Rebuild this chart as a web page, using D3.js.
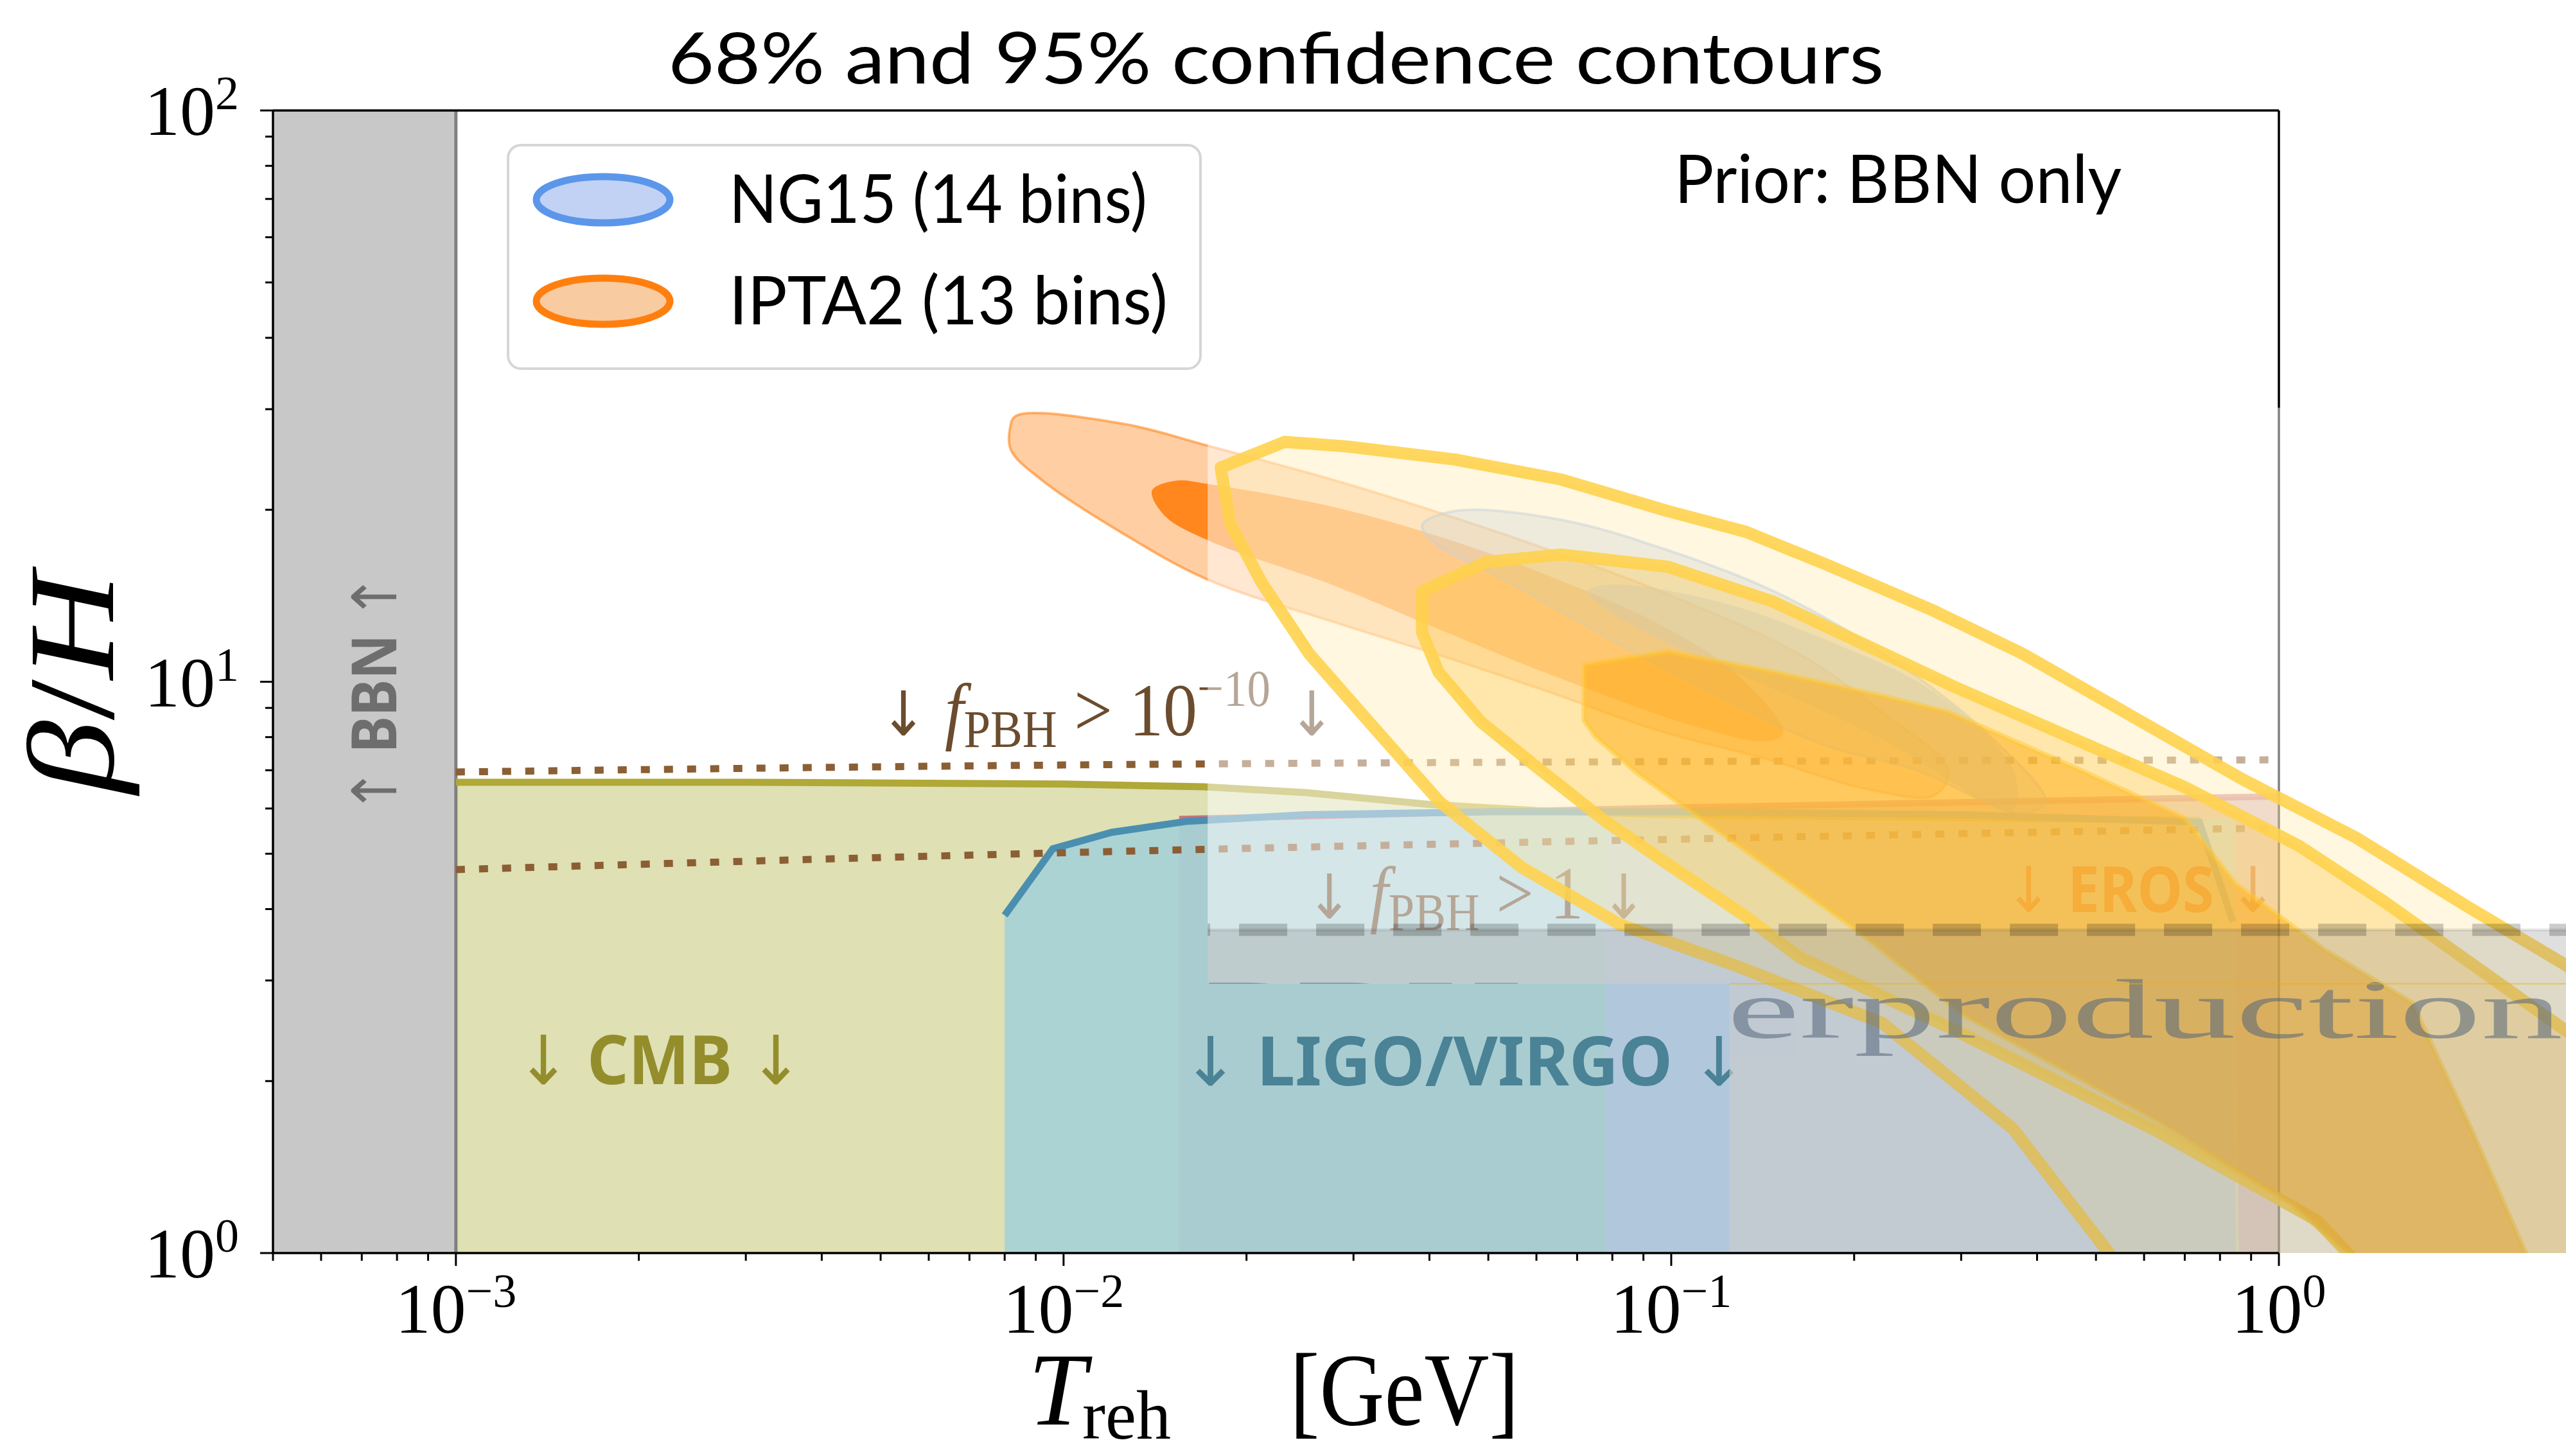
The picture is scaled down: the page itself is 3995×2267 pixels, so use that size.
<!DOCTYPE html>
<html><head><meta charset="utf-8">
<script src="https://cdn.jsdelivr.net/npm/d3@7"></script>
<style>body{margin:0;background:#fff}</style>
</head><body>
<svg id="chart" width="3995" height="2267" xmlns="http://www.w3.org/2000/svg"></svg>
<script>
// ---------------- data ----------------
const xDomain = [5e-4, 1];
const yDomain = [1, 100];
const xMajorTicks = [1e-3, 1e-2, 1e-1, 1];
const xTickExponents = ["\u22123", "\u22122", "\u22121", "0"];
const yMajorTicks = [1, 10, 100];
const yTickExponents = ["0", "1", "2"];

const bbnRange = [5e-4, 1e-3];
const cmbBoundary = [[1e-3,6.67],[3e-3,6.67],[1e-2,6.62],[1.7e-2,6.55],[2.5e-2,6.4],[4e-2,6.1],[6e-2,5.95],[0.1,5.85],[0.3,5.78],[0.74,5.72],[0.84,3.8],[0.86,1]];
const ligoBoundary = [[8.0e-3,3.9],[9.6e-3,5.1],[1.2e-2,5.45],[1.6e-2,5.7],[2.5e-2,5.85],[5e-2,5.92],[0.1,5.92],[0.3,5.85],[0.74,5.68],[0.84,3.8],[0.85,1]];
const erosBoundary = [[0.0155,5.75],[0.05,5.92],[0.1,6.02],[0.3,6.15],[1,6.3]];
const erosStart = 0.0155;
const blueBand = [0.078, 0.848, 5.8];
const fpbhTiny = [[1e-3,6.95],[1e-2,7.15],[0.1,7.25],[1,7.3]];
const fpbhOne = [[1e-3,4.69],[1e-2,5.02],[0.1,5.3],[1,5.55]];

const ipta2_95 = [[0.00816,27.7],[0.00835,29.2],[0.0125,28.3],[0.01726,25.9],[0.028,22.5],[0.0419,19.7],[0.0631,17.0],[0.0944,14.5],[0.162,11.2],[0.222,8.86],[0.286,6.99],[0.271,6.33],[0.209,6.5],[0.144,7.32],[0.0944,8.24],[0.0631,9.59],[0.0419,11.1],[0.028,12.7],[0.01726,15.1],[0.0125,18.2],[0.00923,22.5],[0.0082,25.4]];
const ipta2_68 = [[0.01398,21.6],[0.01534,22.5],[0.01726,22.2],[0.028,20.2],[0.0419,17.9],[0.0631,15.3],[0.0944,12.7],[0.127,10.4],[0.153,8.13],[0.144,7.87],[0.112,8.29],[0.0631,10.3],[0.0419,12.3],[0.028,14.7],[0.01726,17.7],[0.01469,19.5]];
const ng15_95 = [[0.0389,18.8],[0.044,19.9],[0.0659,19.2],[0.0986,17.0],[0.1475,14.4],[0.2207,11.3],[0.3303,8.13],[0.4129,6.16],[0.376,5.89],[0.251,7.03],[0.181,7.71],[0.120,9.40],[0.0803,11.8],[0.0537,15.0],[0.0406,17.6]];
const ng15_68 = [[0.0727,14.4],[0.0803,14.8],[0.120,13.8],[0.181,11.8],[0.271,9.59],[0.365,7.03],[0.365,5.96],[0.2207,7.97],[0.1475,9.71],[0.0986,11.7],[0.0774,13.5]];

// pasted overlay (other analysis)
const overlayLeft = 0.01726, overlayLowerLeft = 0.1247, overlayTop = 30.2, overlaySplit = 2.96;
const overproductionLevel = 3.68;
const yellowA95 = [[0.01814,23.7],[0.02311,26.3],[0.02943,25.8],[0.044,24.5],[0.0659,22.6],[0.0986,19.9],[0.1327,18.3],[0.1811,16.0],[0.2709,13.3],[0.3786,11.2],[0.563,8.80],[0.869,6.76],[1.342,5.33],[2.059,4.02],[2.968,3.19],[4.1,2.53],[4.1,0.8],[0.529,0.8],[0.529,0.99],[0.365,1.65],[0.222,2.53],[0.1271,3.19],[0.0823,3.76],[0.0568,4.73],[0.0416,6.16],[0.0325,8.29],[0.02535,11.2],[0.0212,14.9],[0.0188,18.9]];
const yellowB = [[0.0389,14.4],[0.0495,16.2],[0.0659,16.7],[0.0986,15.9],[0.1475,13.8],[0.2936,9.78],[0.6997,6.54],[1.08,5.16],[1.491,4.12],[2.968,2.45],[4.934,1.65],[4.934,0.8],[1.309,0.8],[1.309,0.99],[1.156,1.14],[0.6334,1.63],[0.2829,2.50],[0.1629,3.29],[0.1327,3.88],[0.0986,4.80],[0.0774,5.73],[0.0597,7.13],[0.0486,8.51],[0.0414,10.4],[0.0389,12.2]];
const yellowC = [[0.0719,10.7],[0.0986,11.3],[0.1475,10.4],[0.2207,9.46],[0.285,8.86],[0.4677,7.03],[0.6997,5.77],[0.848,4.43],[1.185,3.40],[1.657,2.74],[2.071,1.65],[2.557,0.99],[2.754,0.8],[1.393,0.8],[1.309,0.99],[1.047,1.22],[0.6334,1.70],[0.303,2.61],[0.1963,3.76],[0.1271,5.23],[0.0876,6.94],[0.0750,8.02],[0.0719,8.55]];

const legendLabels = ["NG15 (14 bins)", "IPTA2 (13 bins)"];
const legendFill = ["#c2d2f5", "#f9cba0"];
const legendStroke = ["#5b96ea", "#ff7f0e"];

// ---------------- layout ----------------
const W = 3995, H = 2267;
const M = {l:425, r:3548, t:172, b:1951};
const svg = d3.select("#chart");
const x = d3.scaleLog().domain(xDomain).range([M.l, M.r]);
const y = d3.scaleLog().domain(yDomain).range([M.b, M.t]);
const lineGen = d3.line().x(d => x(d[0])).y(d => y(d[1]));
const dotGen = d3.line().x(d => x(d[0])).y(d => y(d[1])).curve(d3.curveMonotoneX);
const smoothClosed = d3.line().x(d => x(d[0])).y(d => y(d[1])).curve(d3.curveCatmullRomClosed.alpha(0.5));
const linClosed = d3.line().x(d => x(d[0])).y(d => y(d[1])).curve(d3.curveLinearClosed);
const areaGen = d3.area().x(d => x(d[0])).y0(y(1)).y1(d => y(d[1]));

svg.append("rect").attr("width", W).attr("height", H).attr("fill", "#fff");
const defs = svg.append("defs");
defs.append("clipPath").attr("id", "axclip").append("rect")
  .attr("x", M.l).attr("y", M.t).attr("width", M.r - M.l).attr("height", M.b - M.t);
const Lshape = [
  [x(overlayLeft), y(overlayTop)], [W, y(overlayTop)], [W, y(1)],
  [x(overlayLowerLeft), y(1)], [x(overlayLowerLeft), y(overlaySplit)], [x(overlayLeft), y(overlaySplit)]
];
defs.append("clipPath").attr("id", "ovclip").append("polygon").attr("points", Lshape.map(p => p.join(",")).join(" "));

// ---------------- base plot ----------------
const base = svg.append("g").attr("clip-path", "url(#axclip)");
base.append("rect").attr("x", x(bbnRange[0])).attr("y", M.t).attr("width", x(bbnRange[1]) - x(bbnRange[0])).attr("height", M.b - M.t).attr("fill", "#c8c8c8");
base.append("path").attr("d", areaGen([[erosStart, erosBoundary[0][1]], ...erosBoundary])).attr("fill", "#d8b2c4");
base.append("path").attr("d", areaGen(cmbBoundary)).attr("fill", "#dfe0b3");
base.append("path").attr("d", areaGen([[ligoBoundary[0][0], 1], ...ligoBoundary])).attr("fill", "#acd3d4");
base.append("path").attr("d", areaGen([[erosStart, 1], [erosStart, 5.72], ...ligoBoundary.filter(d => d[0] > erosStart)])).attr("fill", "#7a7aa0").attr("opacity", 0.08);
base.append("rect").attr("x", x(blueBand[0])).attr("y", y(blueBand[2])).attr("width", x(blueBand[1]) - x(blueBand[0])).attr("height", y(1) - y(blueBand[2])).attr("fill", "#b1c7dc");
base.append("line").attr("x1", x(bbnRange[1])).attr("x2", x(bbnRange[1])).attr("y1", M.t).attr("y2", M.b).attr("stroke", "#808080").attr("stroke-width", 5);

base.append("path").attr("d", lineGen(erosBoundary)).attr("fill", "none").attr("stroke", "#c0506a").attr("stroke-width", 10).attr("opacity", 0.75);
base.append("path").attr("d", lineGen(cmbBoundary.slice(0, 10))).attr("fill", "none").attr("stroke", "#b0a837").attr("stroke-width", 11);
base.append("path").attr("d", lineGen(ligoBoundary.slice(0, 10))).attr("fill", "none").attr("stroke", "#4a8fb0").attr("stroke-width", 11);
[fpbhTiny, fpbhOne].forEach(d => base.append("path").attr("d", dotGen(d)).attr("fill", "none")
  .attr("stroke", "#8b5e34").attr("stroke-width", 11).attr("stroke-dasharray", "14,22"));

// NG15 / IPTA2 contours
base.append("path").attr("d", smoothClosed(ipta2_95)).attr("fill", "#ff7f0e").attr("fill-opacity", 0.38).attr("stroke", "#ff7f0e").attr("stroke-opacity", 0.55).attr("stroke-width", 4);
base.append("path").attr("d", smoothClosed(ipta2_68)).attr("fill", "#ff7f0e").attr("fill-opacity", 0.9);
base.append("path").attr("d", smoothClosed(ng15_95)).attr("fill", "#6495ed").attr("fill-opacity", 0.3).attr("stroke", "#6495ed").attr("stroke-opacity", 0.5).attr("stroke-width", 4);
base.append("path").attr("d", smoothClosed(ng15_68)).attr("fill", "#6495ed").attr("fill-opacity", 0.45);

// region labels
function regionLabel(g, text, x0, x1, yb, color, fs) {
  const t = g.append("text").attr("x", x0).attr("y", yb).attr("fill", color)
    .attr("font-family", "'Noto Sans', 'DejaVu Sans', sans-serif").attr("font-size", fs)
    .attr("textLength", x1 - x0).attr("lengthAdjust", "spacingAndGlyphs");
  t.append("tspan").attr("font-weight", "normal").text("\u2193 ");
  t.append("tspan").attr("font-weight", "bold").text(text);
  t.append("tspan").attr("font-weight", "normal").text(" \u2193");
}
regionLabel(base, "CMB", 804, 1250, 1688, "#938d2c", 106);
regionLabel(base, "LIGO/VIRGO", 1840, 2721, 1690, "#4a8296", 106);
regionLabel(base, "EROS", 3121, 3545, 1420, "#c03a00", 98);

function fpbhLabel(g, x0, x1, yb, sup, main) {
  const t = g.append("text").attr("x", x0).attr("y", yb).attr("fill", "#6b4c2e")
    .attr("font-family", "'Liberation Serif', serif").attr("font-size", 116)
    .attr("textLength", x1 - x0).attr("lengthAdjust", "spacingAndGlyphs");
  t.append("tspan").attr("font-family", "'DejaVu Sans', sans-serif").attr("font-size", 96).text("\u2193 ");
  t.append("tspan").attr("font-style", "italic").text("f");
  t.append("tspan").attr("font-size", 82).attr("dy", 18).text("PBH");
  t.append("tspan").attr("dy", -18).text(" > " + main);
  if (sup) t.append("tspan").attr("font-size", 80).attr("dy", -46).text(sup);
  t.append("tspan").attr("font-family", "'DejaVu Sans', sans-serif").attr("font-size", 96).attr("dy", sup ? 46 : 0).text(" \u2193");
}
fpbhLabel(base, 1370, 2079, 1145, "\u221210", "10");
fpbhLabel(base, 2034, 2564, 1430, null, "1");

// right spine lies under the pasted overlay
svg.append("line").attr("x1", M.r).attr("x2", M.r).attr("y1", M.t).attr("y2", M.b).attr("stroke", "#000").attr("stroke-width", 3.5);

// BBN label
const bbn = svg.append("text").attr("transform", `translate(617,1080) rotate(-90)`).attr("text-anchor", "middle")
  .attr("fill", "#6e6e6e").attr("font-family", "'Noto Sans', 'DejaVu Sans', sans-serif").attr("font-size", 96)
  .attr("textLength", 374).attr("lengthAdjust", "spacingAndGlyphs");
bbn.append("tspan").attr("font-weight", "normal").text("\u2191 ");
bbn.append("tspan").attr("font-weight", "bold").text("BBN");
bbn.append("tspan").attr("font-weight", "normal").text(" \u2191");

// ---------------- pasted overlay ----------------
const ov = svg.append("g").attr("clip-path", "url(#ovclip)");
ov.append("rect").attr("x", x(overlayLeft)).attr("y", y(overlayTop)).attr("width", W - x(overlayLeft))
  .attr("height", y(1) - y(overlayTop)).attr("fill", "#fff").attr("opacity", 0.5);
const yStroke = g => g.attr("stroke", "#ffd24a").attr("stroke-opacity", 0.88).attr("stroke-width", 19).attr("stroke-linejoin", "round");
ov.append("path").attr("d", linClosed(yellowA95)).attr("fill", "rgb(255,225,140)").attr("fill-opacity", 0.28).call(yStroke);
ov.append("path").attr("d", linClosed(yellowB)).attr("fill", "rgb(255,190,40)").attr("fill-opacity", 0.28).call(yStroke);
ov.append("path").attr("d", linClosed(yellowC)).attr("fill", "rgb(255,165,0)").attr("fill-opacity", 0.45)
  .attr("stroke", "#ffc830").attr("stroke-opacity", 0.5).attr("stroke-width", 8);
ov.append("rect").attr("x", x(overlayLeft)).attr("y", y(overproductionLevel)).attr("width", W - x(overlayLeft))
  .attr("height", y(1) - y(overproductionLevel)).attr("fill", "#808080").attr("opacity", 0.25);
ov.append("line").attr("x1", x(overlayLeft)).attr("x2", W).attr("y1", y(overproductionLevel)).attr("y2", y(overproductionLevel))
  .attr("stroke", "#000").attr("stroke-opacity", 0.07).attr("stroke-width", 5);
ov.append("line").attr("x1", x(overlayLeft)).attr("x2", W).attr("y1", y(overproductionLevel)).attr("y2", y(overproductionLevel))
  .attr("stroke", "#000").attr("stroke-opacity", 0.2).attr("stroke-width", 19).attr("stroke-dasharray", "75,45").attr("stroke-dashoffset", 71);
ov.append("text").attr("x", 1875).attr("y", 1616).attr("font-family", "'Liberation Serif', serif").attr("font-size", 132)
  .attr("fill", "#55667a").attr("opacity", 0.55).attr("textLength", 2115).attr("lengthAdjust", "spacingAndGlyphs").text("PBH overproduction");
ov.append("line").attr("x1", x(overlayLowerLeft)).attr("x2", W).attr("y1", y(overlaySplit)).attr("y2", y(overlaySplit))
  .attr("stroke", "#f0b000").attr("stroke-opacity", 0.5).attr("stroke-width", 2);

// ---------------- frame, ticks ----------------
const frame = svg.append("g").attr("stroke", "#000").attr("stroke-width", 3.5);
frame.append("line").attr("x1", M.l).attr("x2", M.r).attr("y1", M.t).attr("y2", M.t);
frame.append("line").attr("x1", M.l).attr("x2", M.r).attr("y1", M.b).attr("y2", M.b);
frame.append("line").attr("x1", M.l).attr("x2", M.l).attr("y1", M.t).attr("y2", M.b);

const xMinor = [];
[1e-4, 1e-3, 1e-2, 1e-1].forEach(dec => { for (let k = 2; k <= 9; k++) { const v = dec * k; if (v >= xDomain[0] && v < xDomain[1]) xMinor.push(v); } });
const yMinor = [];
[1, 10].forEach(dec => { for (let k = 2; k <= 9; k++) yMinor.push(dec * k); });
const ticks = svg.append("g").attr("stroke", "#000").attr("stroke-width", 3);
xMajorTicks.forEach(v => ticks.append("line").attr("x1", x(v)).attr("x2", x(v)).attr("y1", M.b).attr("y2", M.b + 20));
xMinor.forEach(v => ticks.append("line").attr("x1", x(v)).attr("x2", x(v)).attr("y1", M.b).attr("y2", M.b + 12));
yMajorTicks.forEach(v => ticks.append("line").attr("y1", y(v)).attr("y2", y(v)).attr("x1", M.l).attr("x2", M.l - 20));
yMinor.forEach(v => ticks.append("line").attr("y1", y(v)).attr("y2", y(v)).attr("x1", M.l).attr("x2", M.l - 12));

const serif = "'Liberation Serif', 'DejaVu Serif', serif";
xMajorTicks.forEach((v, i) => {
  const t = svg.append("text").attr("x", x(v)).attr("y", 2075).attr("text-anchor", "middle").attr("font-family", serif).attr("font-size", 110);
  t.append("tspan").text("10");
  t.append("tspan").attr("font-size", 74).attr("dy", -40).text(xTickExponents[i]);
});
yMajorTicks.forEach((v, i) => {
  const t = svg.append("text").attr("x", 372).attr("y", y(v) + 38).attr("text-anchor", "end").attr("font-family", serif).attr("font-size", 110);
  t.append("tspan").text("10");
  t.append("tspan").attr("font-size", 74).attr("dy", -40).text(yTickExponents[i]);
});

// axis labels
const xl = svg.append("text").attr("x", 1601).attr("y", 2218).attr("font-family", serif).attr("font-size", 162);
xl.append("tspan").attr("font-style", "italic").text("T");
xl.append("tspan").attr("font-size", 108).attr("dy", 22).attr("dx", -6).text("reh");
svg.append("text").attr("x", 2008).attr("y", 2218).attr("font-family", serif).attr("font-size", 162)
  .attr("textLength", 357).attr("lengthAdjust", "spacingAndGlyphs").text("[GeV]");
const yl = svg.append("text").attr("transform", "translate(176,1064) rotate(-90)").attr("text-anchor", "middle")
  .attr("font-family", serif).attr("font-size", 190).attr("textLength", 344).attr("lengthAdjust", "spacingAndGlyphs");
yl.append("tspan").attr("font-style", "italic").text("\u03b2");
yl.append("tspan").text("/");
yl.append("tspan").attr("font-style", "italic").text("H");

// title and annotation
const sans = "Lato, 'Open Sans', sans-serif";
svg.append("text").attr("x", 1040).attr("y", 130).attr("font-family", sans).attr("font-size", 110)
  .attr("textLength", 1893).attr("lengthAdjust", "spacingAndGlyphs").text("68% and 95% confidence contours");
svg.append("text").attr("x", 2607).attr("y", 316).attr("font-family", sans).attr("font-size", 104)
  .attr("textLength", 696).attr("lengthAdjust", "spacingAndGlyphs").text("Prior:  BBN only");

// legend
const lg = svg.append("g");
lg.append("rect").attr("x", 791).attr("y", 226).attr("width", 1078).attr("height", 348).attr("rx", 20)
  .attr("fill", "#fff").attr("fill-opacity", 0.8).attr("stroke", "#d6d6d6").attr("stroke-width", 4);
const legY = [311, 469], legBase = [347, 505], legW = [651, 683];
legendLabels.forEach((lab, i) => {
  lg.append("ellipse").attr("cx", 939).attr("cy", legY[i]).attr("rx", 104).attr("ry", 36)
    .attr("fill", legendFill[i]).attr("stroke", legendStroke[i]).attr("stroke-width", 11);
  lg.append("text").attr("x", 1135).attr("y", legBase[i]).attr("font-family", sans).attr("font-size", 104)
    .attr("textLength", legW[i]).attr("lengthAdjust", "spacingAndGlyphs").text(lab);
});
</script>
</body></html>
